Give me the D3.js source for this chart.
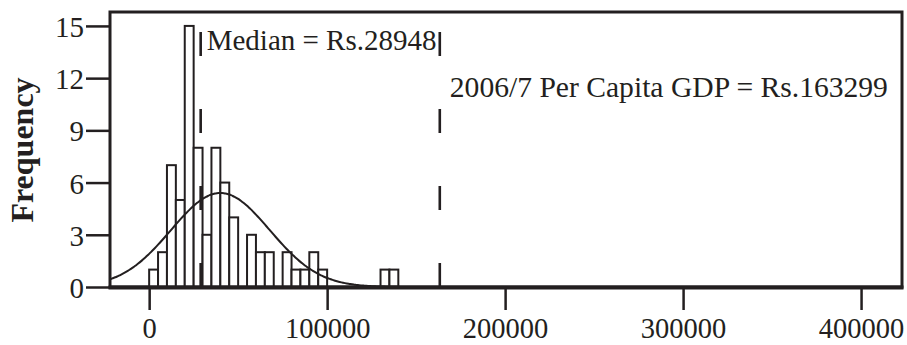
<!DOCTYPE html>
<html>
<head>
<meta charset="utf-8">
<script src="https://cdn.jsdelivr.net/npm/d3@7"></script>
<style>
  html, body { margin: 0; padding: 0; background: #fff; }
  svg { display: block; }
  text { font-family: "Liberation Serif", "Times New Roman", serif; fill: #231f20; }
</style>
</head>
<body>
<svg id="chart" width="907" height="345"></svg>
<script>
// ---- data ----
const binWidth = 5000;
const binStarts = [0, 5000, 10000, 15000, 20000, 25000, 30000, 35000, 40000, 45000,
                   50000, 55000, 60000, 65000, 70000, 75000, 80000, 85000, 90000, 95000,
                   100000, 105000, 110000, 115000, 120000, 125000, 130000, 135000];
const frequencies = [1, 2, 7, 5, 15, 8, 3, 8, 6, 4,
                     0, 3, 2, 2, 0, 2, 1, 1, 2, 1,
                     0, 0, 0, 0, 0, 0, 1, 1];
const xTickValues = [0, 100000, 200000, 300000, 400000];
const yTickValues = [0, 3, 6, 9, 12, 15];
const medianValue = 28948;
const gdpValue = 163299;
const medianLabel = "Median = Rs.28948";
const gdpLabel = "2006/7 Per Capita GDP = Rs.163299";
const yTitle = "Frequency";
// fitted normal curve parameters (estimated from the drawn curve)
const fitMean = 40000;
const fitSd = 27700;
const fitN = 75;

// ---- layout ----
const ink = "#231f20";
const pLeft = 110, pRight = 902, pTop = 12, pBottom = 287;
const svg = d3.select("#chart");

const x = d3.scaleLinear().domain([-22000, 423000]).range([pLeft, pRight]);
const y = d3.scaleLinear().domain([0, 15.8]).range([pBottom, pTop]);

svg.append("defs").append("clipPath").attr("id", "plotClip")
  .append("rect").attr("x", pLeft).attr("y", pTop).attr("width", pRight - pLeft).attr("height", pBottom - pTop);

// bars
const bins = binStarts.map((s, i) => ({ x0: s, x1: s + binWidth, n: frequencies[i] })).filter(d => d.n > 0);
svg.append("g").selectAll("rect").data(bins).join("rect")
  .attr("x", d => x(d.x0))
  .attr("y", d => y(d.n))
  .attr("width", d => x(d.x1) - x(d.x0))
  .attr("height", d => y(0) - y(d.n))
  .attr("fill", "#fff")
  .attr("stroke", ink)
  .attr("stroke-width", 2);

// normal curve
const curvePts = d3.range(-22000, 423001, 1000).map(v => [v,
  fitN * binWidth / (fitSd * Math.sqrt(2 * Math.PI)) * Math.exp(-0.5 * Math.pow((v - fitMean) / fitSd, 2))]);
svg.append("path")
  .attr("clip-path", "url(#plotClip)")
  .attr("d", d3.line().x(d => x(d[0])).y(d => y(d[1])).curve(d3.curveBasis)(curvePts))
  .attr("fill", "none").attr("stroke", ink).attr("stroke-width", 2);

// dashed reference lines
[medianValue, gdpValue].forEach(v => {
  svg.append("line")
    .attr("x1", x(v)).attr("x2", x(v))
    .attr("y1", pBottom).attr("y2", 32)
    .attr("stroke", ink).attr("stroke-width", 2.6)
    .attr("stroke-dasharray", "24 53");
});

// labels for lines
svg.append("text").attr("x", x(medianValue) + 6).attr("y", 50)
  .attr("font-size", 29).text(medianLabel);
svg.append("text").attr("x", x(gdpValue) + 10).attr("y", 97)
  .attr("font-size", 29.6).text(gdpLabel);

// frame
svg.append("rect").attr("x", pLeft).attr("y", pTop).attr("width", pRight - pLeft).attr("height", pBottom - pTop)
  .attr("fill", "none").attr("stroke", ink).attr("stroke-width", 3);
svg.append("line").attr("x1", pLeft - 1.5).attr("x2", pRight + 1.5).attr("y1", pBottom + 0.5).attr("y2", pBottom + 0.5)
  .attr("stroke", ink).attr("stroke-width", 4);

// axes
const yAxis = d3.axisLeft(y).tickValues(yTickValues).tickSize(24).tickPadding(2).tickFormat(d3.format("d"));
const gy = svg.append("g").attr("transform", `translate(${pLeft},0)`).call(yAxis);
gy.select(".domain").remove();
gy.selectAll(".tick line").attr("stroke", ink).attr("stroke-width", 2.5);
gy.selectAll(".tick text").attr("font-size", 29).attr("font-family", "Liberation Serif, serif")
  .attr("fill", ink).attr("dy", "0.36em");

const xAxis = d3.axisBottom(x).tickValues(xTickValues).tickSize(22).tickPadding(8).tickFormat(d3.format("d"));
const gx = svg.append("g").attr("transform", `translate(0,${pBottom + 1})`).call(xAxis);
gx.select(".domain").remove();
gx.selectAll(".tick line").attr("stroke", ink).attr("stroke-width", 2.5);
gx.selectAll(".tick text").attr("font-size", 28.5).attr("font-family", "Liberation Serif, serif")
  .attr("fill", ink).attr("dy", "0.71em");

// y title
svg.append("text")
  .attr("transform", "translate(33,150) rotate(-90)")
  .attr("text-anchor", "middle")
  .attr("font-size", 32).attr("font-weight", "bold")
  .text(yTitle);
</script>
</body>
</html>
